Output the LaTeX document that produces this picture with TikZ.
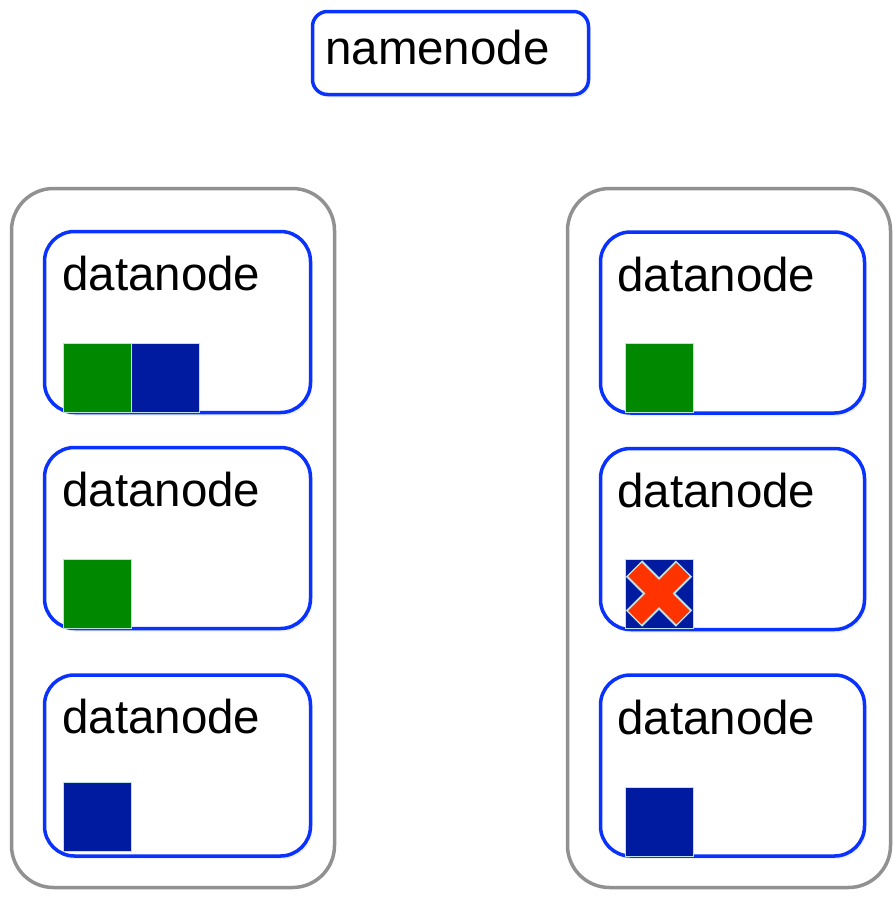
\documentclass[tikz,border=0pt]{standalone}
\usepackage{fontspec}
\setmainfont{Liberation Sans}
\usetikzlibrary{positioning, shadows}
\definecolor{nodeblue}{RGB}{10,50,255}
\definecolor{rackgray}{RGB}{145,145,145}
\definecolor{blkgreen}{RGB}{0,136,0}
\definecolor{blkblue}{RGB}{0,26,160}
\definecolor{xred}{RGB}{255,51,0}
\definecolor{blkedge}{RGB}{190,225,230}

\tikzset{
  rack/.style={draw=rackgray, line width=3.5pt, rounded corners=42pt, minimum width=323pt, minimum height=699pt, inner sep=0pt},
  dnode/.style={draw=nodeblue, line width=3.5pt, rounded corners=30pt, minimum width=266pt, minimum height=181pt, inner sep=0pt, fill=white,
    drop shadow={opacity=0.12, shadow xshift=2pt, shadow yshift=-3pt}},
  namebox/.style={dnode, rounded corners=15pt, minimum width=276pt, minimum height=83pt},
  lbl/.style={font=\fontsize{47.5}{56}\selectfont, inner sep=0pt, anchor=base west},
  blk/.style={minimum width=68pt, minimum height=69pt, inner sep=0pt, outer sep=0pt, draw=blkedge, line width=0.8pt, anchor=south west},
  xedge/.style={line width=23pt, draw=blkedge},
  xfill/.style={line width=19pt, draw=xred},
}

\begin{document}
\begin{tikzpicture}[x=1pt, y=-1pt]
  \fill[white] (0,0) rectangle (893,898);
  \useasboundingbox (0,0) rectangle (893,898);

  % namenode
  \node[namebox] (nn) at (450.5,53) {};
  \node[lbl] (nnt) at (325,64) {namenode};

  % racks
  \node[rack] (rackL) at (173,538) {};
  \node[rack] (rackR) at (729,538) {};

  % left rack
  \node[dnode] (dnL1) at (177.5,322) {};
  \node[dnode] (dnL2) at (177.5,538) {};
  \node[dnode] (dnL3) at (177.5,765.5) {};
  \node[lbl] (tL1) at (62,290) {datanode};
  \node[lbl] (tL2) at (62,506) {datanode};
  \node[lbl] (tL3) at (62,733) {datanode};
  \node[blk, fill=blkgreen] (bL1a) at (63,412) {};
  \node[blk, fill=blkblue, right=0pt of bL1a.south east, anchor=south west] (bL1b) {};
  \node[blk, fill=blkgreen] (bL2) at (63,628) {};
  \node[blk, fill=blkblue] (bL3) at (63,851) {};

  % right rack
  \node[dnode, minimum width=264pt] (dnR1) at (732.5,322.5) {};
  \node[dnode, minimum width=264pt] (dnR2) at (732.5,539) {};
  \node[dnode, minimum width=264pt] (dnR3) at (732.5,765.5) {};
  \node[lbl] (tR1) at (617,291) {datanode};
  \node[lbl] (tR2) at (617,507) {datanode};
  \node[lbl] (tR3) at (617,734) {datanode};
  \node[blk, fill=blkgreen] (bR1) at (625,412) {};
  \node[blk, fill=blkblue] (bR2) at (625,628) {};
  \node[blk, fill=blkblue] (bR3) at (625,856) {};

  % lost block
  \draw[xedge] ([shift={(-25,-25)}]bR2.center) -- ([shift={(25,25)}]bR2.center);
  \draw[xedge] ([shift={(-25,25)}]bR2.center) -- ([shift={(25,-25)}]bR2.center);
  \draw[xfill] ([shift={(-24,-24)}]bR2.center) -- ([shift={(24,24)}]bR2.center);
  \draw[xfill] ([shift={(-24,24)}]bR2.center) -- ([shift={(24,-24)}]bR2.center);
\end{tikzpicture}
\end{document}
